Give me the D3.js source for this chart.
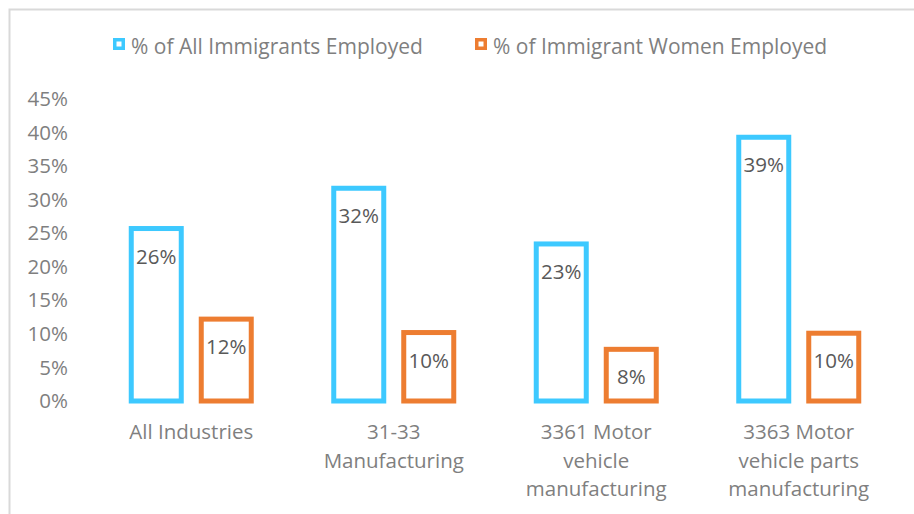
<!DOCTYPE html>
<html>
<head>
<meta charset="utf-8">
<script src="https://cdn.jsdelivr.net/npm/d3@7"></script>
<style>
  body { margin: 0; background: #fff; }
  text { font-family: "Open Sans", sans-serif; }
</style>
</head>
<body>
<div id="chart"></div>
<script>
// categories, one array of label lines each
const categories = [
    ['All Industries'],
    ['31-33', 'Manufacturing'],
    ['3361 Motor', 'vehicle', 'manufacturing'],
    ['3363 Motor', 'vehicle parts', 'manufacturing']
];
const seriesNames = ['% of All Immigrants Employed', '% of Immigrant Women Employed'];
const allImmigrants = [0.257, 0.317, 0.234, 0.393];
const immigrantWomen = [0.122, 0.102, 0.077, 0.101];
const yTicks = [0, 0.05, 0.10, 0.15, 0.20, 0.25, 0.30, 0.35, 0.40, 0.45];

const colors = ['#3dc9ff', '#ed7d31'];

var svgWidth = 914;
var svgHeight = 514;

var svg = d3.select('#chart')
    .append('svg')
    .attr('width', svgWidth)
    .attr('height', svgHeight);

// chart area border (runs off the right and bottom edge)
svg.append('rect')
    .attr('x', 9.5)
    .attr('y', 9.5)
    .attr('width', 1000)
    .attr('height', 1000)
    .attr('fill', 'none')
    .attr('stroke', '#d9d9d9')
    .attr('stroke-width', 2);

var x0 = d3.scaleBand()
    .domain(d3.range(categories.length))
    .range([90, 900]);

var x1 = d3.scaleBand()
    .domain(seriesNames)
    .range([0, 120])
    .paddingInner(20 / 70);

var y = d3.scaleLinear()
    .domain([0, 0.45])
    .range([401, 99]);

// y axis labels only, no line or gridlines
var yAxis = d3.axisLeft(y)
    .tickValues(yTicks)
    .tickFormat(d3.format('.0%'))
    .tickSize(0)
    .tickPadding(0);

var yG = svg.append('g')
    .attr('transform', 'translate(68,0)')
    .call(yAxis);
yG.select('.domain').remove();
yG.selectAll('text')
    .attr('font-family', '"Open Sans", sans-serif')
    .attr('font-size', 20.5)
    .attr('fill', '#7f7f7f');

// bars
const rows = categories.map((c, i) => [
    { cat: i, series: seriesNames[0], value: allImmigrants[i], color: colors[0] },
    { cat: i, series: seriesNames[1], value: immigrantWomen[i], color: colors[1] }
]);

var groups = svg.selectAll('.group')
    .data(rows)
    .enter()
    .append('g')
    .attr('class', 'group')
    .attr('transform', (d, i) => `translate(${x0(i) + x0.bandwidth() / 2 - 60},0)`);

groups.selectAll('rect')
    .data(d => d)
    .enter()
    .append('rect')
    .attr('x', d => x1(d.series))
    .attr('y', d => y(d.value))
    .attr('width', x1.bandwidth())
    .attr('height', d => y(0) - y(d.value))
    .attr('fill', '#fff')
    .attr('stroke', d => d.color)
    .attr('stroke-width', 5);

groups.selectAll('.val')
    .data(d => d)
    .enter()
    .append('text')
    .attr('class', 'val')
    .attr('x', d => x1(d.series) + x1.bandwidth() / 2)
    .attr('y', d => y(d.value) + 35)
    .attr('text-anchor', 'middle')
    .attr('font-size', 20.5)
    .attr('fill', '#595959')
    .text(d => d3.format('.0%')(d.value));

// category labels, wrapped
var catText = svg.selectAll('.cat')
    .data(categories)
    .enter()
    .append('text')
    .attr('class', 'cat')
    .attr('text-anchor', 'middle')
    .attr('font-size', 20.5)
    .attr('fill', '#7f7f7f');

catText.selectAll('tspan')
    .data((d, i) => d.map((line, j) => ({ line, j, i })))
    .enter()
    .append('tspan')
    .attr('x', d => x0(d.i) + x0.bandwidth() / 2)
    .attr('y', d => 439 + d.j * 28.5)
    .text(d => d.line);

// legend
const legendX = [113, 475];
var legend = svg.selectAll('.legend')
    .data(seriesNames)
    .enter()
    .append('g')
    .attr('class', 'legend')
    .attr('transform', (d, i) => `translate(${legendX[i]},38)`);

legend.append('rect')
    .attr('x', 1.75)
    .attr('y', 1.75)
    .attr('width', 8.5)
    .attr('height', 8.5)
    .attr('fill', '#fff')
    .attr('stroke', (d, i) => colors[i])
    .attr('stroke-width', 3.5);

legend.append('text')
    .attr('x', 18)
    .attr('y', 16)
    .attr('font-size', 21)
    .attr('fill', '#7f7f7f')
    .text(d => d);
</script>
</body>
</html>
